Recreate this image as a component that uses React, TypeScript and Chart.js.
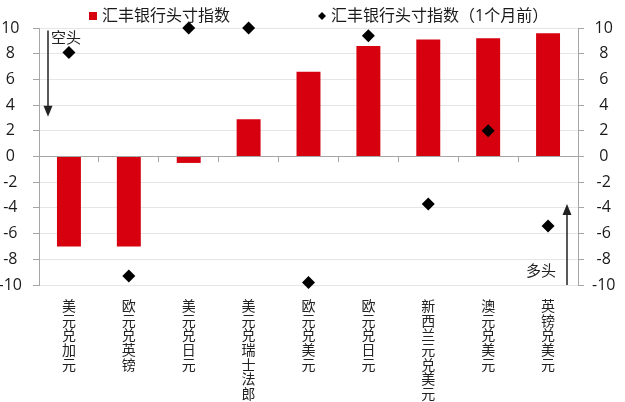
import React, { useEffect, useRef } from 'react';
import Chart from 'chart.js/auto';

// currency pairs, left to right
const pairs = [
  '美元兑加元',
  '欧元兑英镑',
  '美元兑日元',
  '美元兑瑞士法郎',
  '欧元兑美元',
  '欧元兑日元',
  '新西兰元兑美元',
  '澳元兑美元',
  '英镑兑美元',
];
// current positioning index
const positionNow = [-7.0, -7.0, -0.5, 2.9, 6.6, 8.6, 9.1, 9.2, 9.6];
// positioning index one month earlier
const positionPrev = [8.1, -9.3, 10.0, 10.0, -9.8, 9.4, -3.7, 2.0, -5.4];
const seriesNames = ['汇丰银行头寸指数', '汇丰银行头寸指数（1个月前）'];
const shortLabel = '空头';
const longLabel = '多头';

const FONT = '"Open Sans", "Noto Sans CJK SC", sans-serif';
const RED = '#D7000F';
const TEXT = '#1a1a1a';
const AXIS = '#a6a6a6';
const GRID = '#e6e6e6';

function arrow(ctx: CanvasRenderingContext2D, x: number, from: number, to: number) {
  const dir = to > from ? 1 : -1;
  ctx.beginPath();
  ctx.moveTo(x, from);
  ctx.lineTo(x, to - dir * 9);
  ctx.stroke();
  ctx.beginPath();
  ctx.moveTo(x, to);
  ctx.lineTo(x - 4.5, to - dir * 11);
  ctx.lineTo(x + 4.5, to - dir * 11);
  ctx.closePath();
  ctx.fill();
}

const overlay = {
  id: 'overlay',
  afterDraw(chart: any) {
    const { ctx, chartArea, scales } = chart;
    const y = scales.y;
    ctx.save();
    ctx.textBaseline = 'middle';
    ctx.textAlign = 'left';

    // legend
    ctx.font = `16px ${FONT}`;
    ctx.fillStyle = RED;
    ctx.fillRect(89, 12, 8, 8);
    ctx.fillStyle = TEXT;
    ctx.fillText(seriesNames[0], 102, 16);
    ctx.fillStyle = '#000';
    ctx.beginPath();
    ctx.moveTo(322, 12);
    ctx.lineTo(326, 16);
    ctx.lineTo(322, 20);
    ctx.lineTo(318, 16);
    ctx.closePath();
    ctx.fill();
    ctx.fillStyle = TEXT;
    ctx.fillText(seriesNames[1], 331, 16);

    // short / long arrows
    ctx.strokeStyle = '#222';
    ctx.fillStyle = '#222';
    ctx.lineWidth = 1.5;
    ctx.font = `15px ${FONT}`;
    ctx.fillText(shortLabel, chartArea.left + 12, y.getPixelForValue(9.15));
    arrow(ctx, chartArea.left + 9, y.getPixelForValue(9.8), y.getPixelForValue(3.1));
    ctx.fillText(longLabel, chartArea.right - 52, y.getPixelForValue(-9.0));
    arrow(ctx, chartArea.right - 11, y.getPixelForValue(-10), y.getPixelForValue(-3.7));
    ctx.restore();
  },
};

export default function App() {
  const canvasRef = useRef<HTMLCanvasElement>(null);

  useEffect(() => {
    if (!canvasRef.current) return;
    const chart = new Chart(canvasRef.current, {
      type: 'bar',
      data: {
        labels: pairs.map((p) => p.split('')),
        datasets: [
          {
            type: 'bar',
            label: seriesNames[0],
            data: positionNow,
            backgroundColor: RED,
            barPercentage: 0.4,
            categoryPercentage: 1,
            order: 1,
          },
          {
            type: 'line',
            label: seriesNames[1],
            data: positionPrev,
            showLine: false,
            pointStyle: 'rectRot',
            pointRadius: 6.5,
            backgroundColor: '#000',
            borderWidth: 0,
            clip: false,
            order: 0,
          } as any,
        ],
      },
      options: {
        animation: false,
        responsive: true,
        maintainAspectRatio: false,
        layout: { padding: { top: 28, left: 0, right: 0, bottom: 0 } },
        plugins: {
          legend: { display: false },
          tooltip: { enabled: false },
        },
        scales: {
          x: {
            type: 'category',
            position: { y: 0 } as any,
            offset: true,
            ticks: { display: false },
            grid: {
              drawOnChartArea: false,
              offset: true,
              tickLength: 5,
              tickColor: AXIS,
            },
            border: { color: AXIS },
          },
          x2: {
            type: 'category',
            position: 'bottom',
            offset: true,
            grid: { display: false },
            border: { display: false },
            ticks: {
              autoSkip: false,
              maxRotation: 0,
              padding: 7,
              color: '#222',
              font: { family: FONT, size: 14, lineHeight: 1.04 },
            },
            afterFit: (s: any) => {
              s.height = 117;
            },
          },
          y: {
            position: 'left',
            min: -10,
            max: 10,
            ticks: {
              stepSize: 2,
              padding: 11,
              crossAlign: 'center',
              color: TEXT,
              font: { family: FONT, size: 16 },
            },
            grid: { color: GRID, tickColor: AXIS, tickLength: 6 },
            border: { color: AXIS },
            afterFit: (s: any) => {
              s.width = 39;
            },
          },
          y2: {
            position: 'right',
            min: -10,
            max: 10,
            ticks: {
              stepSize: 2,
              padding: 8,
              crossAlign: 'center',
              color: TEXT,
              font: { family: FONT, size: 16 },
            },
            grid: { drawOnChartArea: false, tickColor: AXIS, tickLength: 6 },
            border: { color: AXIS },
            afterFit: (s: any) => {
              s.width = 47;
            },
          },
        },
      },
      plugins: [overlay],
    });

    return () => {
      chart.destroy();
    };
  }, []);

  return (
    <div style={{ position: 'absolute', left: 0, top: 0, width: 625, height: 402, background: '#fff' }}>
      <canvas ref={canvasRef} />
    </div>
  );
}
